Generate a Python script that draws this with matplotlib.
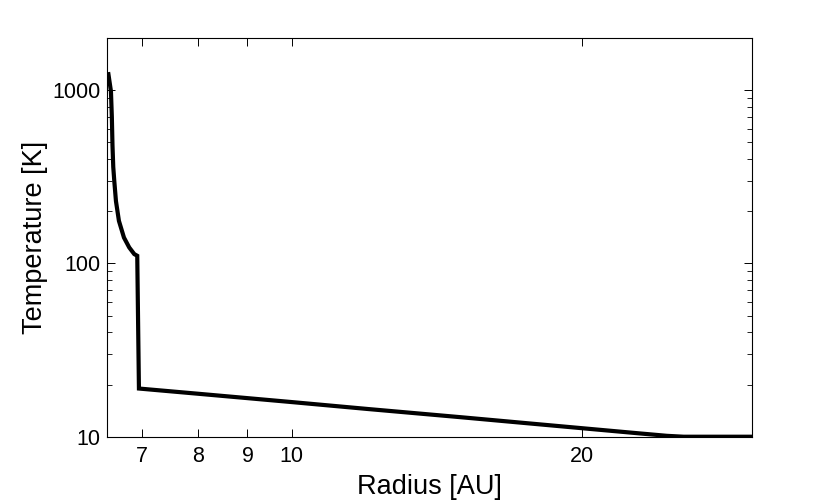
import matplotlib
matplotlib.use("Agg")
import matplotlib.pyplot as plt
from matplotlib.ticker import FixedLocator, FixedFormatter, LogLocator, NullFormatter, NullLocator

plt.rcParams['font.family'] = ['Liberation Sans', 'DejaVu Sans']

# Data
radius_au = [6.457, 6.496, 6.510, 6.520, 6.532, 6.548, 6.574, 6.621, 6.701, 6.786, 6.868,
             6.917, 6.945, 8.0, 10.0, 12.0, 15.0, 20.0, 23.0, 24.5, 25.5, 30.0]
temperature_k = [1236, 985, 700, 480, 360, 299, 229, 176, 141, 123.6, 113.2,
                 110.7, 18.97, 17.7, 15.85, 14.45, 12.95, 11.2, 10.44, 10.12, 10.0, 10.0]

x_ticks = [7, 8, 9, 10, 20]
x_ticklabels = ['7', '8', '9', '10', '20']
y_ticks = [10, 100, 1000]
y_ticklabels = ['10', '100', '1000']

fig = plt.figure(figsize=(8.3, 5.01), dpi=100)
ax = fig.add_axes([0.1293, 0.1283, 0.9057 - 0.1293, 0.9242 - 0.1283])

ax.plot(radius_au, temperature_k, color='black', lw=3.0, solid_joinstyle='miter')

ax.set_xscale('log')
ax.set_yscale('log')
ax.set_xlim(6.44, 30)
ax.set_ylim(10, 2000)

ax.xaxis.set_major_locator(FixedLocator(x_ticks))
ax.xaxis.set_major_formatter(FixedFormatter(x_ticklabels))
ax.xaxis.set_minor_locator(NullLocator())
ax.xaxis.set_minor_formatter(NullFormatter())

ax.yaxis.set_major_locator(FixedLocator(y_ticks))
ax.yaxis.set_major_formatter(FixedFormatter(y_ticklabels))
ax.yaxis.set_minor_locator(LogLocator(base=10, subs=range(2, 10)))
ax.yaxis.set_minor_formatter(NullFormatter())

ax.tick_params(axis='both', which='major', direction='in', length=6, width=0.7,
               top=True, right=True, labelsize=15.5, pad=5)
ax.tick_params(axis='x', which='major', pad=7)
ax.tick_params(axis='both', which='minor', direction='in', length=3.5, width=0.6,
               top=True, right=True)

for s in ax.spines.values():
    s.set_linewidth(0.8)

ax.set_xlabel('Radius [AU]', fontsize=19.5, labelpad=5)
ax.set_ylabel('Temperature [K]', fontsize=19.5, labelpad=3)

fig.savefig('out.png', dpi=100)
